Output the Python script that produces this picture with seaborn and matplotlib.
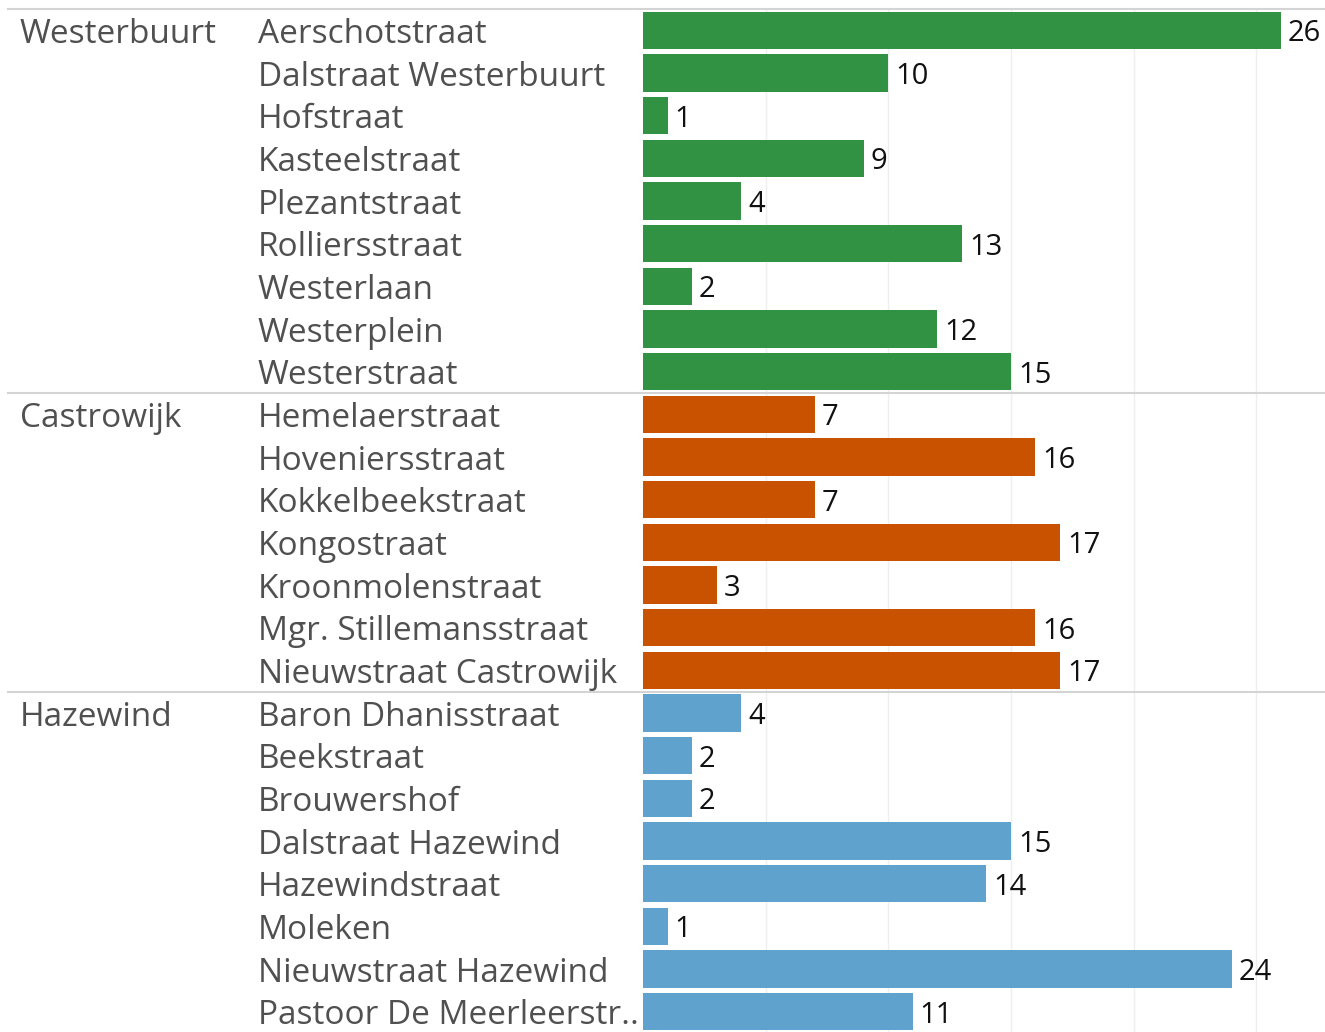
import matplotlib
matplotlib.use("Agg")
import matplotlib.pyplot as plt
import matplotlib.transforms as mtransforms
import seaborn as sns
import pandas as pd

groups = ["Westerbuurt"] * 9 + ["Castrowijk"] * 7 + ["Hazewind"] * 8
streets = [
    "Aerschotstraat", "Dalstraat Westerbuurt", "Hofstraat", "Kasteelstraat",
    "Plezantstraat", "Rolliersstraat", "Westerlaan", "Westerplein", "Westerstraat",
    "Hemelaerstraat", "Hoveniersstraat", "Kokkelbeekstraat", "Kongostraat",
    "Kroonmolenstraat", "Mgr. Stillemansstraat", "Nieuwstraat Castrowijk",
    "Baron Dhanisstraat", "Beekstraat", "Brouwershof", "Dalstraat Hazewind",
    "Hazewindstraat", "Moleken", "Nieuwstraat Hazewind", "Pastoor De Meerleerstr..",
]
values = [26, 10, 1, 9, 4, 13, 2, 12, 15,
          7, 16, 7, 17, 3, 16, 17,
          4, 2, 2, 15, 14, 1, 24, 11]
group_order = ["Westerbuurt", "Castrowijk", "Hazewind"]
palette = {"Westerbuurt": "#319244", "Castrowijk": "#c85200", "Hazewind": "#5fa2ce"}

df = pd.DataFrame({"group": groups, "street": streets, "value": values})

W, H = 1325, 1032
fig = plt.figure(figsize=(W / 100, H / 100), dpi=100)
ax_left = 643 / W
ax_top = 1 - 9 / H
ax_bottom = 1 - 1033 / H
ax = fig.add_axes([ax_left, ax_bottom, 1 - ax_left, ax_top - ax_bottom])

sns.barplot(data=df, y="street", x="value", hue="group", hue_order=group_order,
            palette=palette, orient="h", dodge=False, width=0.87,
            saturation=1, legend=False, ax=ax, order=streets)

ax.set_xlim(0, (W - 643) / 24.53)
ax.set_ylim(len(streets) - 0.5, -0.5)
ax.set_xticks([5, 10, 15, 20, 25])
ax.grid(axis="x", color="#efefef", linewidth=1)
ax.set_axisbelow(True)
ax.tick_params(left=False, bottom=False, labelbottom=False, labelleft=False)
for s in ax.spines.values():
    s.set_visible(False)
ax.set_xlabel("")
ax.set_ylabel("")

for c in ax.containers:
    texts = ax.bar_label(c, fmt="%d", padding=5, fontsize=21, color="#111111",
                         family="Open Sans")
    for t in texts:
        t.set_va("center_baseline")

trans = mtransforms.blended_transform_factory(fig.transFigure, ax.transData)
label_color = "#505050"
for i, s in enumerate(streets):
    ax.text(258 / W, i, s, transform=trans, ha="left", va="center_baseline",
            fontsize=24, color=label_color, family="Open Sans", clip_on=False)

start = 0
for g in group_order:
    n = groups.count(g)
    ax.text(20 / W, start, g, transform=trans, ha="left", va="center_baseline",
            fontsize=24, color=label_color, family="Open Sans", clip_on=False)
    ax.plot([8 / W, 1], [start - 0.5, start - 0.5], transform=trans,
            color="#d4d4d4", linewidth=1.5, clip_on=False)
    start += n

fig.savefig("out.png", dpi=100)
